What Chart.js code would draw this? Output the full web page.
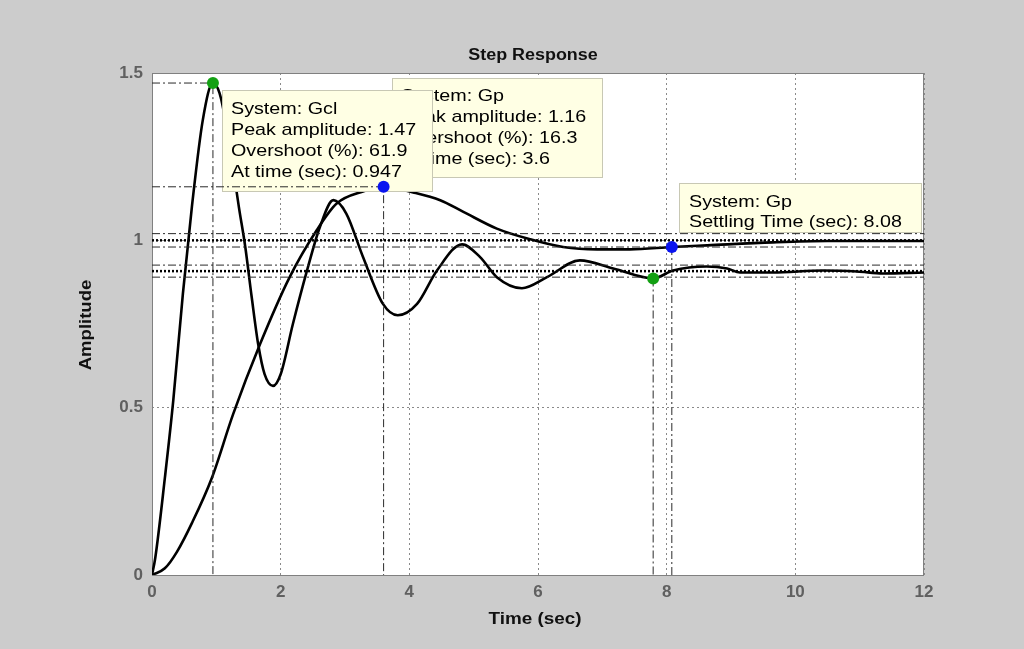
<!DOCTYPE html>
<html>
<head>
<meta charset="utf-8">
<script src="https://cdn.jsdelivr.net/npm/chart.js@4.4.0/dist/chart.umd.min.js"></script>
<style>
  html, body { margin: 0; padding: 0; background: #cccccc; }
  canvas { display: block; }
</style>
</head>
<body>
<canvas id="stepChart" width="1024" height="649"></canvas>
<script>
// step response data
const gclTime = [0, 0.05, 0.2, 0.33, 0.48, 0.62, 0.79, 0.947, 1.05, 1.15, 1.25, 1.35, 1.45, 1.55, 1.65, 1.75, 1.88, 2.0, 2.19, 2.41, 2.61, 2.82, 3.02, 3.28, 3.59, 3.82, 4.12, 4.43, 4.82, 5.1, 5.36, 5.75, 6.14, 6.65, 7.17, 7.79, 8.1, 8.62, 8.94, 9.14, 9.65, 10.43, 10.96, 11.36, 12];
const gclAmp  = [0, 0.05, 0.29, 0.52, 0.84, 1.1, 1.36, 1.47, 1.44, 1.35, 1.23, 1.1, 0.98, 0.83, 0.69, 0.6, 0.565, 0.6, 0.75, 0.91, 1.04, 1.12, 1.08, 0.95, 0.81, 0.776, 0.81, 0.91, 0.988, 0.95, 0.89, 0.857, 0.89, 0.94, 0.916, 0.886, 0.91, 0.922, 0.916, 0.904, 0.904, 0.91, 0.907, 0.901, 0.904];

const gpTime = [0, 0.2, 0.39, 0.62, 0.93, 1.26, 1.68, 2.14, 2.56, 2.87, 3.28, 3.6, 4.06, 4.48, 4.84, 5.36, 5.88, 6.39, 6.92, 7.43, 8.08, 8.63, 9.65, 10.5, 12];
const gpAmp  = [0, 0.02, 0.07, 0.155, 0.29, 0.48, 0.69, 0.89, 1.03, 1.11, 1.146, 1.16, 1.143, 1.12, 1.085, 1.035, 1.003, 0.98, 0.973, 0.973, 0.98, 0.985, 0.994, 0.998, 0.998];

// characteristics [time, amplitude]
const gclPeak = [0.947, 1.47];
const gpPeak = [3.6, 1.16];
const gclSettle = [7.79, 0.886];
const gpSettle = [8.08, 0.98];
const gclFinal = 0.908;
const gpFinal = 1.0;
const gclBand = [0.89, 0.926];
const gpBand = [0.98, 1.02];

const xTicks = [0, 2, 4, 6, 8, 10, 12];
const yTicks = [0, 0.5, 1, 1.5];

const tipGclPeak = ['System: Gcl', 'Peak amplitude: 1.47', 'Overshoot (%): 61.9', 'At time (sec): 0.947'];
const tipGpPeak = ['System: Gp', 'Peak amplitude: 1.16', 'Overshoot (%): 16.3', 'At time (sec): 3.6'];
const tipGpSettle = ['System: Gp', 'Settling Time (sec): 8.08'];

const zip = (ts, ys) => ts.map((t, i) => ({ x: t, y: ys[i] }));
const hline = (v) => [{ x: 0, y: v }, { x: 12, y: v }];
const dashDot = [8, 3, 2, 3];

const refLine = (label, data) => ({
    label, data, order: 5,
    borderColor: '#2a2a2a', borderWidth: 1, borderDash: dashDot,
    pointRadius: 0, tension: 0, fill: false
});
const finalLine = (label, v) => ({
    label, data: hline(v), order: 4,
    borderColor: '#000', borderWidth: 2.5, borderDash: [2, 2],
    pointRadius: 0, tension: 0, fill: false
});
const marker = (label, pt, color) => ({
    label, data: [{ x: pt[0], y: pt[1] }], order: 1, showLine: false,
    pointRadius: 6, pointBackgroundColor: color, pointBorderWidth: 0
});

// draws text stretched a bit sideways, like the original export
const sText = (ctx, str, x, y, font, align, sx, color) => {
    ctx.save();
    ctx.font = font;
    ctx.fillStyle = color || '#000';
    ctx.textAlign = align;
    ctx.textBaseline = 'middle';
    ctx.translate(x, y);
    ctx.scale(sx, 1);
    ctx.fillText(str, 0, 0);
    ctx.restore();
};

const tipFont = '17px "Liberation Sans", Arial, sans-serif';
const drawTip = (ctx, box, lines, tx, ty, step) => {
    ctx.save();
    ctx.fillStyle = '#ffffe4';
    ctx.strokeStyle = '#c8c8b4';
    ctx.lineWidth = 1;
    ctx.fillRect(box[0], box[1], box[2] - box[0], box[3] - box[1]);
    ctx.strokeRect(box[0] + 0.5, box[1] + 0.5, box[2] - box[0] - 1, box[3] - box[1] - 1);
    ctx.restore();
    lines.forEach((s, i) => sText(ctx, s, tx, ty + i * step, tipFont, 'left', 1.16));
};

const plotDecor = {
    id: 'plotDecor',
    beforeDraw(chart) {
        const { ctx, chartArea: a } = chart;
        ctx.save();
        ctx.fillStyle = '#ffffff';
        ctx.fillRect(a.left, a.top, a.right - a.left, a.bottom - a.top);
        ctx.restore();
    },
    beforeDatasetsDraw(chart) {
        const { ctx, chartArea: a } = chart;
        ctx.save();
        ctx.strokeStyle = '#808080';
        ctx.lineWidth = 1;
        ctx.strokeRect(a.left + 0.5, a.top + 0.5, a.right - a.left - 1, a.bottom - a.top);
        ctx.restore();
    },
    afterDatasetDraw(chart, args) {
        // datatips sit over the curves but under the markers
        if (chart.data.datasets[args.index].label !== 'Gcl') return;
        const ctx = chart.ctx;
        drawTip(ctx, [392, 78, 603, 178], tipGpPeak, 401, 96, 21);
        drawTip(ctx, [222, 90, 433, 192], tipGclPeak, 231, 109, 21);
        drawTip(ctx, [679, 183, 922, 233], tipGpSettle, 689, 202, 20.5);
    },
    afterDraw(chart) {
        const ctx = chart.ctx;
        const bold = 'bold 16px "Liberation Sans", Arial, sans-serif';
        sText(ctx, 'Step Response', 533, 56, bold, 'center', 1.12, '#111');
        sText(ctx, 'Time (sec)', 535, 620, bold, 'center', 1.18, '#111');
        ctx.save();
        ctx.translate(87, 325);
        ctx.rotate(-Math.PI / 2);
        sText(ctx, 'Amplitude', 0, 0, bold, 'center', 1.16, '#111');
        ctx.restore();
    }
};

const tickFont = { family: '"Liberation Sans", Arial, sans-serif', size: 17, weight: 'bold' };

new Chart(document.getElementById('stepChart'), {
    type: 'line',
    data: {
        datasets: [
            { label: 'Gp', data: zip(gpTime, gpAmp), order: 11, borderColor: '#000', borderWidth: 2.6,
              pointRadius: 0, cubicInterpolationMode: 'monotone', fill: false },
            { label: 'Gcl', data: zip(gclTime, gclAmp), order: 10, borderColor: '#000', borderWidth: 2.6,
              pointRadius: 0, cubicInterpolationMode: 'monotone', fill: false },
            refLine('gcl peak', [{ x: 0, y: gclPeak[1] }, { x: gclPeak[0], y: gclPeak[1] }, { x: gclPeak[0], y: 0 }]),
            refLine('gp peak', [{ x: 0, y: gpPeak[1] }, { x: gpPeak[0], y: gpPeak[1] }, { x: gpPeak[0], y: 0 }]),
            refLine('gcl settle', [{ x: gclSettle[0], y: gclSettle[1] }, { x: gclSettle[0], y: 0 }]),
            refLine('gp settle', [{ x: gpSettle[0], y: gpSettle[1] }, { x: gpSettle[0], y: 0 }]),
            refLine('gcl lo', hline(gclBand[0])),
            refLine('gcl hi', hline(gclBand[1])),
            refLine('gp lo', hline(gpBand[0])),
            refLine('gp hi', hline(gpBand[1])),
            finalLine('gcl final', gclFinal),
            finalLine('gp final', gpFinal),
            marker('gcl peak pt', gclPeak, '#13a013'),
            marker('gcl settle pt', gclSettle, '#13a013'),
            marker('gp peak pt', gpPeak, '#0a14f0'),
            marker('gp settle pt', gpSettle, '#0a14f0')
        ]
    },
    options: {
        responsive: false,
        animation: false,
        events: [],
        layout: { padding: { left: 0, top: 73, right: 100, bottom: 0 } },
        plugins: { legend: { display: false }, tooltip: { enabled: false }, title: { display: false } },
        scales: {
            x: {
                type: 'linear', min: 0, max: 12,
                afterBuildTicks: (s) => { s.ticks = xTicks.map(v => ({ value: v })); },
                afterFit: (s) => { s.height = 74; },
                grid: { color: '#8a8a8a', lineWidth: 1, drawTicks: false },
                border: { display: false, dash: [2, 3] },
                ticks: { font: tickFont, color: '#606060', padding: 7, maxRotation: 0, callback: (v) => String(v) }
            },
            y: {
                type: 'linear', min: 0, max: 1.5,
                afterBuildTicks: (s) => { s.ticks = yTicks.map(v => ({ value: v })); },
                afterFit: (s) => { s.width = 152; },
                grid: { color: '#8a8a8a', lineWidth: 1, drawTicks: false },
                border: { display: false, dash: [2, 3] },
                ticks: { font: tickFont, color: '#606060', padding: 9, callback: (v) => String(v) }
            }
        }
    },
    plugins: [plotDecor]
});
</script>
</body>
</html>
